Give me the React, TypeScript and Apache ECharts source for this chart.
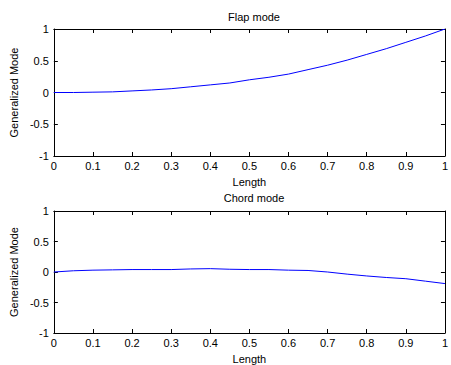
import React, { useEffect, useRef } from "react";
import * as echarts from "echarts";

const lengthValues = [0, 0.05, 0.1, 0.15, 0.2, 0.25, 0.3, 0.35, 0.4, 0.45, 0.5, 0.55, 0.6, 0.65, 0.7, 0.75, 0.8, 0.85, 0.9, 0.95, 1];
const flapMode = [0, 0, 0.005, 0.01, 0.025, 0.04, 0.06, 0.09, 0.12, 0.15, 0.2, 0.24, 0.29, 0.36, 0.43, 0.51, 0.6, 0.69, 0.79, 0.89, 1];
const chordMode = [0, 0.02, 0.03, 0.035, 0.04, 0.04, 0.04, 0.05, 0.055, 0.045, 0.04, 0.04, 0.03, 0.025, 0, -0.035, -0.065, -0.09, -0.11, -0.15, -0.19];
const titles = ["Flap mode", "Chord mode"];

const FONT = "'Liberation Sans', Arial, sans-serif";

export default function App() {
  const ref = useRef<HTMLDivElement>(null);
  useEffect(() => {
    if (!ref.current) return;
    const chart = echarts.init(ref.current, undefined, { renderer: "svg" });
    const grids = [
      { left: 50, top: 29, width: 398, height: 127 },
      { left: 50, top: 211, width: 398, height: 124 },
    ];
    const axisLine = { show: true, onZero: false, lineStyle: { color: "#000", width: 1 } };
    const tick = { show: true, inside: true, length: 4, lineStyle: { color: "#000" } };
    const xAxes: any[] = [];
    const yAxes: any[] = [];
    grids.forEach((_, i) => {
      xAxes.push({
        type: "value", gridIndex: i, min: 0, max: 1, interval: 0.1, position: "bottom",
        axisLine, axisTick: tick, splitLine: { show: false },
        axisLabel: { color: "#000", fontFamily: FONT, fontSize: 11, margin: 4 },
        name: "Length", nameLocation: "middle", nameGap: 20,
        nameTextStyle: { color: "#000", fontFamily: FONT, fontSize: 11 },
      });
      xAxes.push({
        type: "value", gridIndex: i, min: 0, max: 1, interval: 0.1, position: "top",
        axisLine, axisTick: tick, splitLine: { show: false }, axisLabel: { show: false },
      });
      yAxes.push({
        type: "value", gridIndex: i, min: -1, max: 1, interval: 0.5, position: "left",
        axisLine, axisTick: tick, splitLine: { show: false },
        axisLabel: { color: "#000", fontFamily: FONT, fontSize: 11, margin: 5 },
        name: "Generalized Mode", nameLocation: "middle", nameGap: 32,
        nameTextStyle: { color: "#000", fontFamily: FONT, fontSize: 11 },
      });
      yAxes.push({
        type: "value", gridIndex: i, min: -1, max: 1, interval: 0.5, position: "right",
        axisLine, axisTick: tick, splitLine: { show: false }, axisLabel: { show: false },
      });
    });
    chart.setOption({
      animation: false,
      backgroundColor: "#fff",
      title: [
        { text: titles[0], left: 249, top: 6, textAlign: "center", textStyle: { fontFamily: FONT, fontSize: 11, fontWeight: "normal", color: "#000" } },
        { text: titles[1], left: 249, top: 187, textAlign: "center", textStyle: { fontFamily: FONT, fontSize: 11, fontWeight: "normal", color: "#000" } },
      ],
      grid: grids,
      xAxis: xAxes,
      yAxis: yAxes,
      series: [
        {
          type: "line", xAxisIndex: 0, yAxisIndex: 0, showSymbol: false,
          data: lengthValues.map((x, i) => [x, flapMode[i]]),
          lineStyle: { color: "#0000ff", width: 1 },
        },
        {
          type: "line", xAxisIndex: 2, yAxisIndex: 2, showSymbol: false,
          data: lengthValues.map((x, i) => [x, chordMode[i]]),
          lineStyle: { color: "#0000ff", width: 1 },
        },
      ],
    });
    return () => chart.dispose();
  }, []);
  return <div ref={ref} style={{ width: 451, height: 365, position: "absolute", left: 0, top: 0 }} />;
}
